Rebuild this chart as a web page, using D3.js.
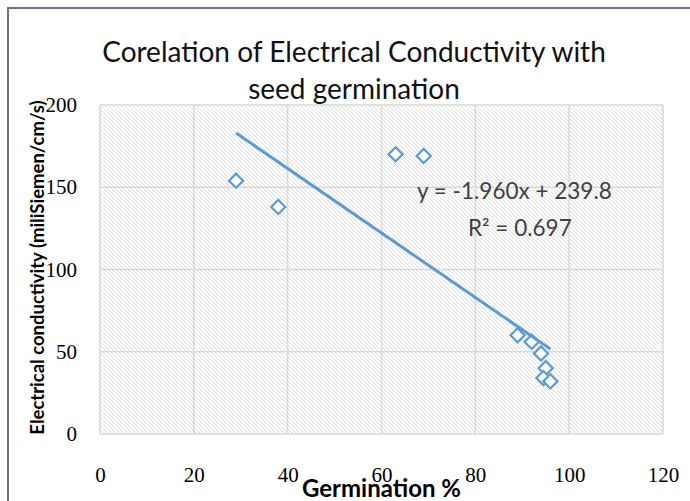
<!DOCTYPE html>
<html>
<head>
<meta charset="utf-8">
<script src="https://cdn.jsdelivr.net/npm/d3@7"></script>
<style>
  body { margin: 0; background: #fff; }
  .tick text { font-family: "Liberation Serif", serif; font-size: 21px; fill: #000; }
</style>
</head>
<body>
<div id="chart"></div>
<script>

// data
var germination = [29, 38, 63, 69, 89, 92, 94, 95, 94.5, 96];
var conductivity = [154, 138, 170, 169, 60, 56, 49, 40, 34, 32];
var xTicks = [0, 20, 40, 60, 80, 100, 120];
var yTicks = [0, 50, 100, 150, 200];
var slope = -1.960, intercept = 239.8, r2 = 0.697;

var titleLines = ["Corelation of Electrical Conductivity with", "seed germination"];

var data = germination.map(function(g, i) { return {x: g, y: conductivity[i]}; });

// set the dimensions and margins of the graph
var W = 690, H = 501;
var margin = {top: 105, right: 27, bottom: 67, left: 100},
    width = W - margin.left - margin.right,
    height = H - margin.top - margin.bottom;

var svg = d3.select("#chart")
  .append("svg")
    .attr("width", W)
    .attr("height", H);

// hatch pattern for the plot area
var pat = svg.append("defs").append("pattern")
  .attr("id", "hatch")
  .attr("patternUnits", "userSpaceOnUse")
  .attr("width", 4)
  .attr("height", 4);
pat.append("path")
  .attr("d", "M-1,-1 L5,5 M-1,3 L1,5 M3,-1 L5,1")
  .attr("stroke", "#dadada")
  .attr("stroke-width", 0.9);

// chart frame
svg.append("rect")
  .attr("x", 8).attr("y", 8)
  .attr("width", 720).attr("height", 540)
  .attr("fill", "none")
  .attr("stroke", "#66718a")
  .attr("stroke-width", 2);

var g = svg.append("g")
  .attr("transform", "translate(" + margin.left + "," + margin.top + ")");

var x = d3.scaleLinear().domain([0, 120]).range([0, width]);
var y = d3.scaleLinear().domain([0, 200]).range([height, 0]);

g.append("rect")
  .attr("width", width)
  .attr("height", height)
  .attr("fill", "url(#hatch)");

// gridlines
g.selectAll(".vgrid")
  .data(xTicks)
  .enter().append("line")
    .attr("x1", d => x(d)).attr("x2", d => x(d))
    .attr("y1", 0).attr("y2", height)
    .attr("stroke", "#d9d9d9")
    .attr("stroke-width", 1.5);

g.selectAll(".hgrid")
  .data(yTicks)
  .enter().append("line")
    .attr("x1", 0).attr("x2", width)
    .attr("y1", d => y(d)).attr("y2", d => y(d))
    .attr("stroke", "#d9d9d9")
    .attr("stroke-width", 1.5);

// axes (labels only)
var xAxis = g.append("g")
  .attr("transform", "translate(0," + height + ")")
  .call(d3.axisBottom(x).tickValues(xTicks).tickSize(0).tickPadding(33));
xAxis.select(".domain").remove();

var yAxis = g.append("g")
  .call(d3.axisLeft(y).tickValues(yTicks).tickSize(0).tickPadding(23));
yAxis.select(".domain").remove();

// points
g.selectAll(".pt")
  .data(data)
  .enter().append("path")
    .attr("class", "pt")
    .attr("d", d3.symbol(d3.symbolSquare, 100))
    .attr("transform", d => "translate(" + x(d.x) + "," + y(d.y) + ") rotate(45)")
    .attr("fill", "#fff")
    .attr("stroke", "#5b9bd5")
    .attr("stroke-width", 2.2);

// linear trendline
var xr = d3.extent(germination);
g.append("line")
  .attr("x1", x(xr[0])).attr("y1", y(slope * xr[0] + intercept))
  .attr("x2", x(xr[1])).attr("y2", y(slope * xr[1] + intercept))
  .attr("stroke", "#5b9bd5")
  .attr("stroke-width", 3);

// equation
svg.append("text")
  .attr("x", 417).attr("y", 199)
  .style("font-family", "Lato, sans-serif").style("font-size", "22.5px")
  .attr("fill", "#404040")
  .text("y = " + slope.toFixed(3) + "x + " + intercept);

svg.append("text")
  .attr("x", 468).attr("y", 236)
  .style("font-family", "Lato, sans-serif").style("font-size", "22.5px")
  .attr("fill", "#404040")
  .text("R² = " + r2);

// title
svg.selectAll(".title")
  .data(titleLines)
  .enter().append("text")
    .attr("x", 354)
    .attr("y", (d, i) => 62 + i * 37)
    .attr("text-anchor", "middle")
    .style("font-family", "Lato, sans-serif")
    .style("font-size", "28px")
    .attr("fill", "#111")
    .text(d => d);

// axis titles
svg.append("text")
  .attr("x", margin.left + width / 2)
  .attr("y", 497)
  .attr("text-anchor", "middle")
  .style("font-family", "Lato, sans-serif")
  .style("font-size", "24px")
  .style("font-weight", "bold")
  .text("Germination %");

svg.append("text")
  .attr("transform", "translate(44," + (margin.top + height / 2 - 2) + ") rotate(-90)")
  .attr("text-anchor", "middle")
  .style("font-family", "Lato, sans-serif")
  .style("font-size", "18.5px")
  .style("font-weight", "bold")
  .text("Electrical conductivity (miliSiemen/cm/s)");

</script>
</body>
</html>
